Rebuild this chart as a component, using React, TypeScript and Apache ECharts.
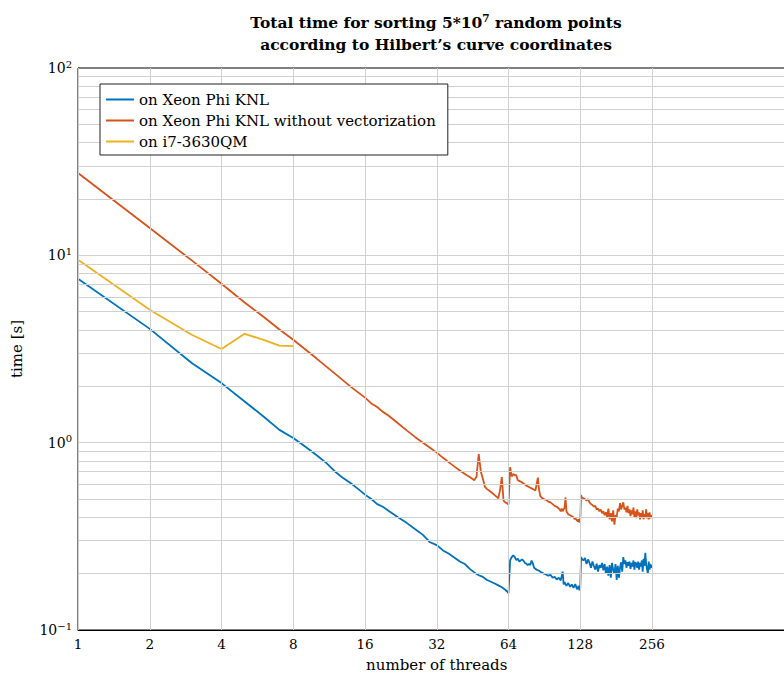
import React, { useEffect, useRef } from "react";
import * as echarts from "echarts";

// ---------- data ----------
const xeonThreads = [
  1, 2, 3, 4, 5, 6, 7, 8, 9, 10, 11, 12, 13, 14, 15, 16, 17, 18, 19, 20, 22, 24, 26, 28, 30, 32, 34, 36, 38, 40,
  42, 44, 46, 48, 50, 52, 54, 56, 58, 60, 62, 63, 64,
  65, 66, 67, 68, 69, 70, 71, 72, 73, 74, 75, 76, 77, 78, 79, 80, 81, 82, 83, 84, 86, 88, 90, 92, 94, 96, 98, 100,
  102, 104, 106, 108, 109, 110, 112, 114, 116, 118, 120, 122, 124, 126, 127, 128,
  129, 130, 132, 134, 136, 138, 140, 142, 144, 146, 148, 150, 152, 154, 156, 158, 160, 162, 164, 166, 168, 170,
  172, 174, 176, 178, 180, 182, 184, 186, 188, 190, 192, 194, 196, 198, 200, 202, 204, 206, 208, 210, 212, 214,
  216, 218, 220, 222, 224, 226, 228, 230, 232, 234, 236, 238, 240, 242, 244, 246, 248, 250, 252, 254, 256,
];
const xeonTimes = [
  7.5, 4.05, 2.66, 2.08, 1.66, 1.38, 1.17, 1.06, 0.95, 0.86, 0.78, 0.7, 0.645, 0.605, 0.565, 0.528, 0.5, 0.47, 0.455, 0.435,
  0.4, 0.372, 0.345, 0.322, 0.294, 0.284, 0.266, 0.255, 0.243, 0.232,
  0.225, 0.212, 0.203, 0.196, 0.192, 0.185, 0.181, 0.177, 0.173, 0.169, 0.164, 0.161, 0.157,
  0.235, 0.245, 0.25, 0.245, 0.236, 0.24, 0.232, 0.235, 0.238, 0.234, 0.228, 0.226, 0.222, 0.225, 0.222, 0.235, 0.226,
  0.215, 0.212, 0.21, 0.207, 0.203, 0.2, 0.198, 0.195, 0.197, 0.19, 0.192,
  0.186, 0.19, 0.184, 0.205, 0.175, 0.18, 0.172, 0.178, 0.17, 0.175, 0.168, 0.176, 0.165, 0.172, 0.163, 0.168,
  0.245, 0.24, 0.235, 0.242, 0.225, 0.238, 0.228, 0.215, 0.232, 0.22, 0.21, 0.226, 0.205, 0.222, 0.215, 0.228, 0.208,
  0.225, 0.2, 0.218, 0.195, 0.222,
  0.19, 0.228, 0.21, 0.2, 0.225, 0.185, 0.22, 0.19, 0.215, 0.23, 0.205, 0.245, 0.225, 0.235, 0.215, 0.23, 0.22, 0.232,
  0.212, 0.228, 0.218, 0.235,
  0.21, 0.23, 0.225, 0.215, 0.232, 0.21, 0.228, 0.218, 0.235, 0.205, 0.24, 0.22, 0.258, 0.225, 0.21, 0.2, 0.232, 0.21,
  0.225, 0.215, 0.222,
];

const novecThreads = [
  1, 2, 3, 4, 5, 6, 7, 8, 10, 12, 14, 16, 17, 18, 19, 20, 22, 24, 26, 28, 30, 32, 34, 36, 38, 40, 42, 44, 46,
  47, 48, 49, 50, 51, 52, 53, 54, 55, 56, 57, 58, 59, 60, 61, 62, 63, 64,
  65, 66, 67, 68, 69, 70, 71, 72, 74, 76, 78, 80, 82, 83, 84, 85, 86, 87, 88, 90, 92, 94, 96, 98, 100, 102, 104,
  105, 106, 107, 108, 110, 111, 112, 114, 116, 118, 120, 121, 122, 124, 125, 126, 127, 128,
  129, 130, 132, 134, 136, 138, 140, 142, 144, 146, 148, 150, 152, 154, 156, 158, 160, 162, 164, 166, 168, 170,
  172, 174, 176, 178, 180, 182, 184, 186, 188, 190, 192, 194, 196, 198, 200, 202, 204, 206, 208, 210, 212, 214,
  216, 218, 220, 222, 224, 226, 228, 230, 232, 234, 236, 238, 240, 242, 244, 246, 248, 250, 252, 254, 256,
];
const novecTimes = [
  27.5, 14.0, 9.4, 7.05, 5.6, 4.7, 4.02, 3.54, 2.82, 2.33, 1.98, 1.74, 1.62, 1.55, 1.46, 1.4, 1.27, 1.16, 1.07, 1.0,
  0.94, 0.885, 0.83, 0.785, 0.745, 0.71, 0.68, 0.655, 0.63,
  0.66, 0.87, 0.7, 0.64, 0.58, 0.565, 0.555, 0.545, 0.535, 0.525, 0.515, 0.505, 0.56, 0.655, 0.49, 0.48, 0.475, 0.468,
  0.74, 0.66, 0.68, 0.67, 0.67, 0.63, 0.625, 0.62, 0.605, 0.59, 0.58, 0.57, 0.56, 0.555, 0.6, 0.65, 0.56, 0.52, 0.51,
  0.5, 0.495, 0.485, 0.48, 0.47, 0.46, 0.455, 0.445,
  0.44, 0.43, 0.445, 0.43, 0.45, 0.51, 0.43, 0.415, 0.41, 0.405, 0.4, 0.39, 0.395, 0.385, 0.38, 0.39, 0.375, 0.385,
  0.525, 0.51, 0.505, 0.5, 0.49, 0.5, 0.48, 0.47, 0.465, 0.455, 0.46, 0.44, 0.445, 0.43, 0.44, 0.42, 0.43, 0.41,
  0.425, 0.4, 0.445, 0.39,
  0.42, 0.38, 0.435, 0.365, 0.41, 0.4, 0.445, 0.43, 0.475, 0.44, 0.46, 0.48, 0.44, 0.45, 0.425, 0.46, 0.42, 0.44,
  0.405, 0.435, 0.415, 0.45,
  0.4, 0.43, 0.395, 0.44, 0.41, 0.425, 0.39, 0.42, 0.4, 0.435, 0.39, 0.415, 0.4, 0.44, 0.395, 0.42, 0.39, 0.425,
  0.395, 0.41, 0.4,
];

const i7Threads = [1, 2, 3, 4, 5, 6, 7, 8];
const i7Times = [9.46, 5.12, 3.77, 3.16, 3.81, 3.54, 3.3, 3.28];

const seriesNames = [
  "on Xeon Phi KNL",
  "on Xeon Phi KNL without vectorization",
  "on i7-3630QM",
];
const seriesColors = ["#0072BD", "#D95319", "#EDB120"];

const xTickValues = [1, 2, 4, 8, 16, 32, 64, 128, 256];
const yTickValues = [0.1, 1, 10, 100];
const yGridValues = [
  0.2, 0.3, 0.4, 0.5, 0.6, 0.7, 0.8, 0.9, 1, 2, 3, 4, 5, 6, 7, 8, 9, 10, 20, 30, 40, 50, 60, 70, 80, 90,
];

const titleLine1 = "Total time for sorting 5*10{sup|7} random points";
const titleLine2 = "according to Hilbert\u2019s curve coordinates";
const xAxisName = "number of threads";
const yAxisName = "time [s]";

const FONT = "DejaVu Serif";

function zip(xs: number[], ys: number[]) {
  return xs.map((x, i) => [x, ys[i]]);
}

export default function App() {
  const ref = useRef<HTMLDivElement>(null);
  useEffect(() => {
    if (!ref.current) return;
    const chart = echarts.init(ref.current, null, { renderer: "svg" });
    const gridColor = "#d0d0d0";
    const serif = (size: number, extra: any = {}) => ({
      fontFamily: FONT,
      fontSize: size,
      color: "#000",
      ...extra,
    });
    const option: any = {
      animation: false,
      backgroundColor: "#ffffff",
      textStyle: { fontFamily: FONT },
      grid: {
        left: 78,
        top: 68,
        height: 562,
        width: 717.5,
        outerBoundsMode: "none",
        containLabel: false,
        show: true,
        borderColor: "#000",
        borderWidth: 1,
        backgroundColor: "#fff",
      },
      graphic: [
        {
          type: "text",
          x: 436,
          y: 22,
          z: 50,
          style: {
            text: "{t|" + titleLine1.replace("{sup|7}", "}{sup|7}{t|") + "}",
            align: "center",
            verticalAlign: "middle",
            rich: {
              t: { fontFamily: FONT, fontWeight: "bold", fontSize: 15.5, fill: "#000", lineHeight: 20 },
              sup: {
                fontFamily: FONT,
                fontWeight: "bold",
                fontSize: 10.5,
                fill: "#000",
                verticalAlign: "top",
                lineHeight: 20,
                padding: [0, 0, 10, 0],
              },
            },
          },
        },
        {
          type: "text",
          x: 436,
          y: 44,
          z: 50,
          style: {
            text: "{t|" + titleLine2 + "}",
            align: "center",
            verticalAlign: "middle",
            rich: {
              t: { fontFamily: FONT, fontWeight: "bold", fontSize: 15.5, fill: "#000", lineHeight: 20 },
            },
          },
        },
      ],
      legend: {
        data: seriesNames,
        orient: "vertical",
        left: 100,
        top: 84,
        z: 20,
        icon: "rect",
        backgroundColor: "#fff",
        borderColor: "#222",
        borderWidth: 1,
        borderRadius: 0,
        padding: [8, 12, 6, 6],
        itemGap: 6,
        itemWidth: 28,
        itemHeight: 2,
        formatter: (name: string) => "{a|" + name + "}",
        textStyle: {
          ...serif(15),
          rich: { a: serif(15, { lineHeight: 16 }) },
        },
      },
      xAxis: {
        type: "log",
        logBase: 2,
        min: 1,
        max: 1024,
        name: "{a|" + xAxisName + "}",
        nameLocation: "middle",
        nameGap: 27,
        nameTextStyle: { ...serif(15), rich: { a: serif(15) } },
        axisLine: { show: true, lineStyle: { color: "#000", width: 1 } },
        axisTick: { show: false },
        splitLine: { show: false },
        axisLabel: {
          customValues: xTickValues,
          ...serif(13.5),
          margin: 7,
          formatter: (v: number) => "{a|" + String(Math.round(v)) + "}",
          rich: { a: serif(13.5) },
        },
      },
      yAxis: {
        type: "log",
        logBase: 10,
        min: 0.1,
        max: 100,
        name: "{a|" + yAxisName + "}",
        nameLocation: "middle",
        nameGap: 54,
        nameTextStyle: { ...serif(15), rich: { a: serif(15) } },
        axisLine: { show: true, lineStyle: { color: "#000", width: 1 } },
        axisTick: { show: false },
        splitLine: { show: false },
        axisLabel: {
          customValues: yTickValues,
          margin: 6,
          formatter: (v: number) => {
            const e = Math.round(Math.log10(v));
            return "{b|10}{s|" + (e < 0 ? "\u2212" + -e : String(e)) + "}";
          },
          rich: {
            b: serif(14, { lineHeight: 18 }),
            s: serif(10, { verticalAlign: "top", lineHeight: 18, padding: [0, 0, 8, 0] }),
          },
        },
      },
      series: [
        {
          name: "__grid",
          type: "line",
          data: [],
          silent: true,
          z: 1,
          markLine: {
            silent: true,
            symbol: ["none", "none"],
            label: { show: false },
            lineStyle: { color: gridColor, type: "solid", width: 1 },
            data: [
              ...xTickValues.map((v) => ({ xAxis: v })),
              ...yGridValues.map((v) => ({ yAxis: v })),
            ],
          },
        },
        {
          name: seriesNames[0],
          type: "line",
          data: zip(xeonThreads, xeonTimes),
          symbol: "none",
          showSymbol: false,
          color: seriesColors[0],
          lineStyle: { width: 1.8, color: seriesColors[0] },
        },
        {
          name: seriesNames[1],
          type: "line",
          data: zip(novecThreads, novecTimes),
          symbol: "none",
          showSymbol: false,
          color: seriesColors[1],
          lineStyle: { width: 1.8, color: seriesColors[1] },
        },
        {
          name: seriesNames[2],
          type: "line",
          data: zip(i7Threads, i7Times),
          symbol: "none",
          showSymbol: false,
          color: seriesColors[2],
          lineStyle: { width: 1.8, color: seriesColors[2] },
        },
      ],
    };
    chart.setOption(option);
    return () => chart.dispose();
  }, []);
  return (
    <div
      ref={ref}
      style={{ position: "absolute", left: 0, top: 0, width: 784, height: 680 }}
    />
  );
}
